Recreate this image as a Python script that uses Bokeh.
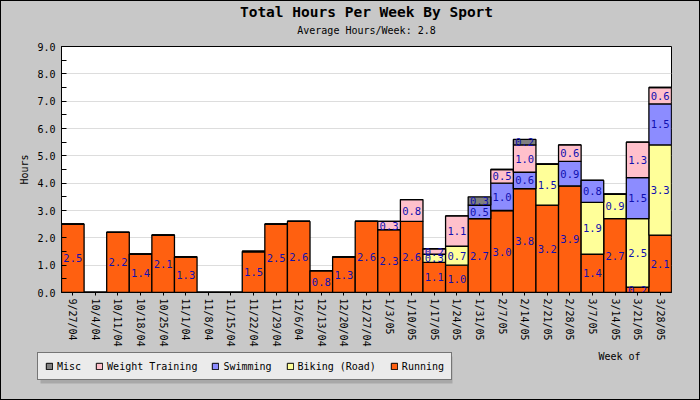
from bokeh.plotting import figure
from bokeh.layouts import column, row
from bokeh.models import (FactorRange, Legend, LegendItem, Title, ColumnDataSource, Label,
                          SingleIntervalTicker, NumeralTickFormatter, Range1d, BoxAnnotation)
from bokeh.core.properties import value
from bokeh.embed import file_html
from bokeh.resources import INLINE

weeks = ["9/27/04", "10/4/04", "10/11/04", "10/18/04", "10/25/04", "11/1/04", "11/8/04",
         "11/15/04", "11/22/04", "11/29/04", "12/6/04", "12/13/04", "12/20/04", "12/27/04",
         "1/3/05", "1/10/05", "1/17/05", "1/24/05", "1/31/05", "2/7/05", "2/14/05", "2/21/05",
         "2/28/05", "3/7/05", "3/14/05", "3/21/05", "3/28/05"]
running = [2.5, 0, 2.2, 1.4, 2.1, 1.3, 0, 0, 1.5, 2.5, 2.6, 0.8, 1.3, 2.6,
           2.3, 2.6, 1.1, 1.0, 2.7, 3.0, 3.8, 3.2, 3.9, 1.4, 2.7, 0.2, 2.1]
biking = [0, 0, 0, 0, 0, 0, 0, 0, 0, 0, 0, 0, 0, 0,
          0, 0, 0.3, 0.7, 0, 0, 0, 1.5, 0, 1.9, 0.9, 2.5, 3.3]
swimming = [0, 0, 0, 0, 0, 0, 0, 0, 0, 0, 0, 0, 0, 0,
            0, 0, 0, 0, 0.5, 1.0, 0.6, 0, 0.9, 0.8, 0, 1.5, 1.5]
weights = [0, 0, 0, 0, 0, 0, 0, 0, 0, 0, 0, 0, 0, 0,
           0.3, 0.8, 0.2, 1.1, 0, 0.5, 1.0, 0, 0.6, 0, 0, 1.3, 0.6]
misc = [0, 0, 0, 0, 0, 0, 0, 0, 0, 0, 0, 0, 0, 0,
        0, 0, 0, 0, 0.3, 0, 0.2, 0, 0, 0, 0, 0, 0]

series = ["Running", "Biking (Road)", "Swimming", "Weight Training", "Misc"]
colors = ["#FF6010", "#FFFF99", "#8C8CFF", "#FFC0CB", "#808080"]
data_lists = [running, biking, swimming, weights, misc]

MONO = "DejaVu Sans Mono"
BG = "#C8C8C8"

data = {"weeks": weeks}
for name, vals in zip(series, data_lists):
    data[name] = vals
source = ColumnDataSource(data)

H1 = 348
p = figure(width=700, height=H1, x_range=FactorRange(factors=weeks, range_padding=0),
           y_range=(0, 9), output_backend="svg", toolbar_location=None,
           min_border_left=60, min_border_right=30, min_border_top=44,
           min_border_bottom=H1 - 291)
p.background_fill_color = "white"
p.border_fill_color = BG
p.outline_line_color = "black"

# titles
p.title.text = "Total Hours Per Week By Sport"
p.title.align = "center"
p.title.text_font = MONO
p.title.text_font_size = "14.5px"
p.title.text_font_style = "bold"
p.title.text_color = "black"
p.title.standoff = 0
sub = Title(text="Average Hours/Week: 2.8", align="center", text_font=MONO,
            text_font_size="10px", text_font_style="normal", text_color="black",
            standoff=6)
try:
    sub.padding = dict(left=0, right=0, top=0, bottom=8)
except Exception:
    pass
p.add_layout(sub, "above")

renderers = p.vbar_stack(series, x="weeks", width=1.0, source=source, color=colors,
                         line_color="black", line_width=1.3)

# labels
lx, ly, lt = [], [], []
bottoms = [0.0] * len(weeks)
for vals in data_lists:
    for i, v in enumerate(vals):
        if v > 0:
            lx.append(weeks[i])
            ly.append(bottoms[i] + v / 2)
            lt.append("%.1f" % v)
        bottoms[i] += v
p.text(x=lx, y=ly, text=lt, text_align="center", text_baseline="middle",
       text_color="#1010B0", text_font=value(MONO), text_font_size="10.5px")

# axes
yax = p.yaxis[0]
xax = p.xaxis[0]
p.xgrid.grid_line_color = None
p.ygrid.grid_line_color = "#DDDDDD"
yax.ticker = SingleIntervalTicker(interval=1, num_minor_ticks=2)
p.ygrid.ticker = yax.ticker
yax.formatter = NumeralTickFormatter(format="0.0")
yax.major_tick_out = 0
yax.major_tick_in = 0
yax.minor_tick_in = 5
yax.minor_tick_out = 0
yax.major_label_standoff = 6
yax.major_label_text_font = MONO
yax.major_label_text_font_size = "10px"
yax.major_label_text_color = "black"
yax.axis_label = "Hours"
yax.axis_label_text_font = MONO
yax.axis_label_text_font_size = "10px"
yax.axis_label_text_font_style = "normal"
yax.axis_label_text_color = "black"
yax.axis_label_standoff = 4
yax.axis_line_color = "black"

xax.major_label_orientation = "vertical"
xax.major_label_text_font = MONO
xax.major_label_text_font_size = "10px"
xax.major_label_text_color = "black"
xax.major_label_standoff = 3
xax.major_tick_out = 3
xax.major_tick_in = 0
xax.axis_line_color = "black"

p.styles = {"border-top": "1px solid black", "border-left": "1px solid black",
            "border-right": "1px solid black", "box-sizing": "border-box",
            "background-color": BG}

# lower strip with legend and x-axis caption
H2 = 400 - H1
q = figure(width=700, height=H2, x_range=FactorRange(factors=weeks, range_padding=0),
           y_range=Range1d(0, H2), output_backend="svg", toolbar_location=None,
           x_axis_type=None, y_axis_type=None,
           min_border=0, min_border_left=0, min_border_right=0,
           min_border_top=0, min_border_bottom=0)
q.background_fill_color = BG
q.border_fill_color = BG
q.outline_line_color = None
q.xgrid.grid_line_color = None
q.ygrid.grid_line_color = None

ghosts = q.vbar_stack(series, x="weeks", width=1.0, source=source, color=colors,
                      line_color="black", line_width=1)
for g in ghosts:
    g.visible = False
items = [LegendItem(label=s, renderers=[r]) for s, r in zip(series, ghosts)][::-1]

def px_to_cat(px):
    return px / 700 * len(weeks)

LEG_LEFT, LEG_TOP, LEG_W, LEG_H = 36, 5, 412, 27
q.add_layout(BoxAnnotation(left=px_to_cat(LEG_LEFT + 3), right=px_to_cat(LEG_LEFT + LEG_W + 3),
                           top=H2 - LEG_TOP - 3, bottom=H2 - LEG_TOP - LEG_H - 3,
                           fill_color="#A8A8A8", fill_alpha=1, line_color=None))
legend = Legend(items=items, orientation="horizontal",
                location=(LEG_LEFT, H2 - LEG_TOP - LEG_H),
                background_fill_color="#EBEBEB", background_fill_alpha=1,
                inactive_fill_alpha=0,
                border_line_color="black", border_line_width=1.5,
                label_text_font=MONO, label_text_font_size="10px", label_text_color="black",
                label_height=12, glyph_width=8, glyph_height=8, spacing=14, padding=7,
                margin=0, label_standoff=4)
q.add_layout(legend, "center")
q.add_layout(Label(x=px_to_cat(618), y=H2 - 8, text="Week of", text_align="center",
                   text_baseline="middle", text_font=MONO, text_font_size="10px",
                   text_color="black"))

q.styles = {"border-bottom": "1px solid black", "border-left": "1px solid black",
            "border-right": "1px solid black", "box-sizing": "border-box",
            "background-color": BG}

layout = column(p, row(q, spacing=0), spacing=0)
open("out.html", "w").write(file_html(layout, INLINE))
